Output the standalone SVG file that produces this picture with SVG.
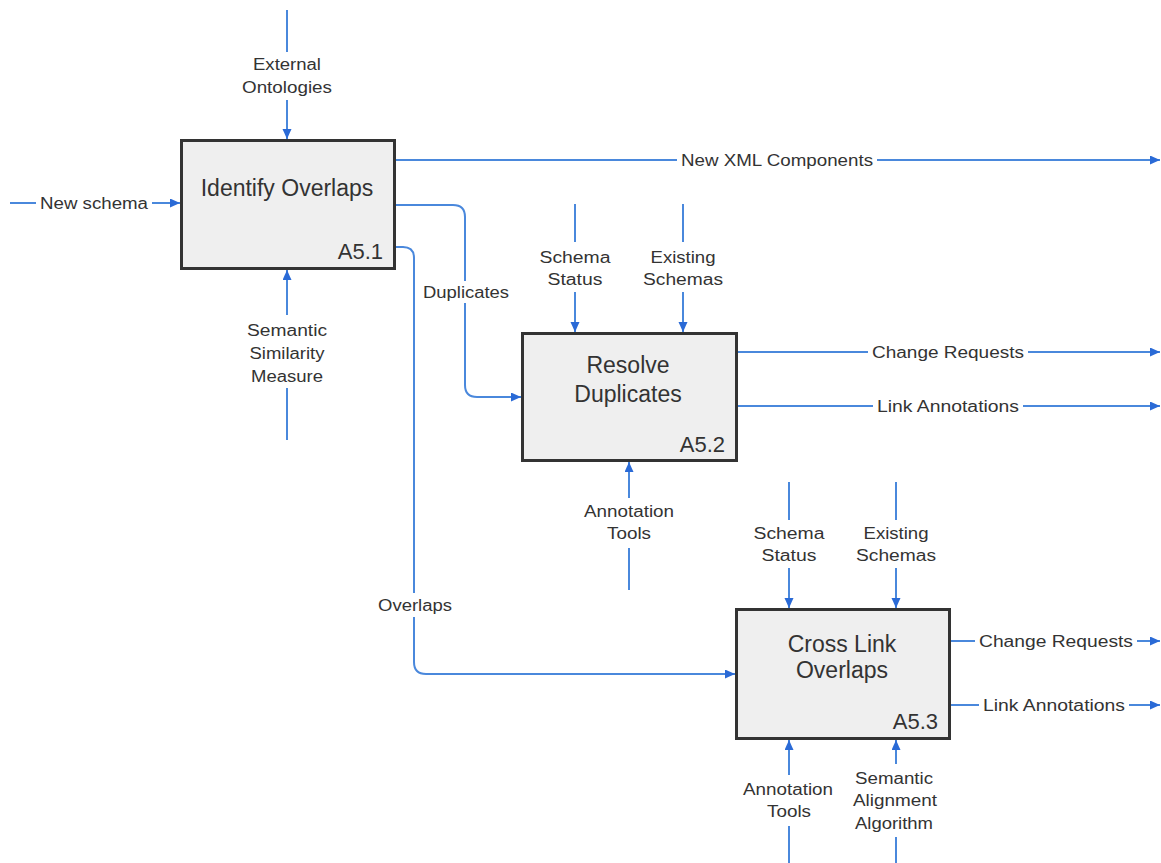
<svg xmlns="http://www.w3.org/2000/svg" width="1161" height="863" viewBox="0 0 1161 863">
  <style>
    .box { fill: #efefef; stroke: #333; stroke-width: 3; }
    .title { font-family: "Liberation Sans", Arial, sans-serif; font-size: 23px; fill: #333; text-anchor: middle; }
    .num { font-family: "Liberation Sans", Arial, sans-serif; font-size: 22px; fill: #333; text-anchor: end; }
    .lbl { font-family: "Liberation Sans", Arial, sans-serif; font-size: 16px; fill: #333; text-anchor: middle; }
    .ln { fill: none; stroke: #4a88dc; stroke-width: 2; }
  </style>
  <defs>
    <marker id="ah" markerUnits="userSpaceOnUse" markerWidth="11" markerHeight="10" refX="10" refY="4.5" orient="auto">
      <path d="M0,0 L10,4.5 L0,9 z" fill="#2a6ad6"/>
    </marker>
  </defs>
  <rect width="1161" height="863" fill="#fff"/>

  <g id="connectors">
    <!-- controls / inputs into A5.1 -->
    <path class="ln" d="M287,10 V52"/>
    <path class="ln" d="M287,100 V139" marker-end="url(#ah)"/>
    <path class="ln" d="M10,203 H36"/>
    <path class="ln" d="M152,203 H180" marker-end="url(#ah)"/>
    <path class="ln" d="M287,440 V388"/>
    <path class="ln" d="M287,315 V270" marker-end="url(#ah)"/>
    <!-- outputs of A5.1 -->
    <path class="ln" d="M396,160 H677"/>
    <path class="ln" d="M877,160 H1160" marker-end="url(#ah)"/>
    <path class="ln" d="M396,205 H453 Q465,205 465,217 V281"/>
    <path class="ln" d="M465,303 V385 Q465,397 477,397 H521" marker-end="url(#ah)"/>
    <path class="ln" d="M396,247 H403 Q414,247 414,258 V593"/>
    <path class="ln" d="M414,617 V662 Q414,674 426,674 H735" marker-end="url(#ah)"/>
    <!-- A5.2 -->
    <path class="ln" d="M575,204 V242"/>
    <path class="ln" d="M575,292 V332" marker-end="url(#ah)"/>
    <path class="ln" d="M683,204 V242"/>
    <path class="ln" d="M683,292 V332" marker-end="url(#ah)"/>
    <path class="ln" d="M738,352 H868"/>
    <path class="ln" d="M1028,352 H1160" marker-end="url(#ah)"/>
    <path class="ln" d="M738,406 H873"/>
    <path class="ln" d="M1023,406 H1160" marker-end="url(#ah)"/>
    <path class="ln" d="M629,590 V548"/>
    <path class="ln" d="M629,498 V462" marker-end="url(#ah)"/>
    <!-- A5.3 -->
    <path class="ln" d="M789,482 V520"/>
    <path class="ln" d="M789,568 V608" marker-end="url(#ah)"/>
    <path class="ln" d="M896,482 V520"/>
    <path class="ln" d="M896,568 V608" marker-end="url(#ah)"/>
    <path class="ln" d="M951,641 H975"/>
    <path class="ln" d="M1137,641 H1160" marker-end="url(#ah)"/>
    <path class="ln" d="M951,705 H979"/>
    <path class="ln" d="M1129,705 H1160" marker-end="url(#ah)"/>
    <path class="ln" d="M789,863 V826"/>
    <path class="ln" d="M789,775 V740" marker-end="url(#ah)"/>
    <path class="ln" d="M896,863 V837"/>
    <path class="ln" d="M896,764 V740" marker-end="url(#ah)"/>
  </g>

  <g id="labels">
    <text class="lbl" x="287" y="70" textLength="68" lengthAdjust="spacingAndGlyphs">External</text>
    <text class="lbl" x="287" y="93" textLength="90" lengthAdjust="spacingAndGlyphs">Ontologies</text>
    <text class="lbl" x="94" y="209" textLength="108" lengthAdjust="spacingAndGlyphs">New schema</text>
    <text class="lbl" x="287" y="336" textLength="80" lengthAdjust="spacingAndGlyphs">Semantic</text>
    <text class="lbl" x="287" y="359" textLength="75" lengthAdjust="spacingAndGlyphs">Similarity</text>
    <text class="lbl" x="287" y="382" textLength="72" lengthAdjust="spacingAndGlyphs">Measure</text>
    <text class="lbl" x="777" y="166" textLength="192" lengthAdjust="spacingAndGlyphs">New XML Components</text>
    <text class="lbl" x="466" y="298" textLength="86" lengthAdjust="spacingAndGlyphs">Duplicates</text>
    <text class="lbl" x="415" y="611" textLength="74" lengthAdjust="spacingAndGlyphs">Overlaps</text>
    <text class="lbl" x="575" y="263" textLength="71" lengthAdjust="spacingAndGlyphs">Schema</text>
    <text class="lbl" x="575" y="285" textLength="55" lengthAdjust="spacingAndGlyphs">Status</text>
    <text class="lbl" x="683" y="263" textLength="65" lengthAdjust="spacingAndGlyphs">Existing</text>
    <text class="lbl" x="683" y="285" textLength="80" lengthAdjust="spacingAndGlyphs">Schemas</text>
    <text class="lbl" x="948" y="358" textLength="152" lengthAdjust="spacingAndGlyphs">Change Requests</text>
    <text class="lbl" x="948" y="412" textLength="142" lengthAdjust="spacingAndGlyphs">Link Annotations</text>
    <text class="lbl" x="629" y="517" textLength="90" lengthAdjust="spacingAndGlyphs">Annotation</text>
    <text class="lbl" x="629" y="539" textLength="44" lengthAdjust="spacingAndGlyphs">Tools</text>
    <text class="lbl" x="789" y="539" textLength="71" lengthAdjust="spacingAndGlyphs">Schema</text>
    <text class="lbl" x="789" y="561" textLength="55" lengthAdjust="spacingAndGlyphs">Status</text>
    <text class="lbl" x="896" y="539" textLength="65" lengthAdjust="spacingAndGlyphs">Existing</text>
    <text class="lbl" x="896" y="561" textLength="80" lengthAdjust="spacingAndGlyphs">Schemas</text>
    <text class="lbl" x="1056" y="647" textLength="154" lengthAdjust="spacingAndGlyphs">Change Requests</text>
    <text class="lbl" x="1054" y="711" textLength="142" lengthAdjust="spacingAndGlyphs">Link Annotations</text>
    <text class="lbl" x="788" y="795" textLength="90" lengthAdjust="spacingAndGlyphs">Annotation</text>
    <text class="lbl" x="789" y="817" textLength="44" lengthAdjust="spacingAndGlyphs">Tools</text>
    <text class="lbl" x="894" y="784" textLength="78" lengthAdjust="spacingAndGlyphs">Semantic</text>
    <text class="lbl" x="895" y="806" textLength="84" lengthAdjust="spacingAndGlyphs">Alignment</text>
    <text class="lbl" x="894" y="829" textLength="78" lengthAdjust="spacingAndGlyphs">Algorithm</text>
  </g>

  <g id="a51">
    <rect class="box" x="181.5" y="140.5" width="213" height="128"/>
    <text class="title" x="287" y="196">Identify Overlaps</text>
    <text class="num" x="383" y="259">A5.1</text>
  </g>
  <g id="a52">
    <rect class="box" x="522.5" y="333.5" width="214" height="127"/>
    <text class="title" x="628" y="373">Resolve</text>
    <text class="title" x="628" y="402">Duplicates</text>
    <text class="num" x="725" y="452">A5.2</text>
  </g>
  <g id="a53">
    <rect class="box" x="736.5" y="609.5" width="213" height="129"/>
    <text class="title" x="842" y="652">Cross Link</text>
    <text class="title" x="842" y="678">Overlaps</text>
    <text class="num" x="938" y="729">A5.3</text>
  </g>
</svg>
